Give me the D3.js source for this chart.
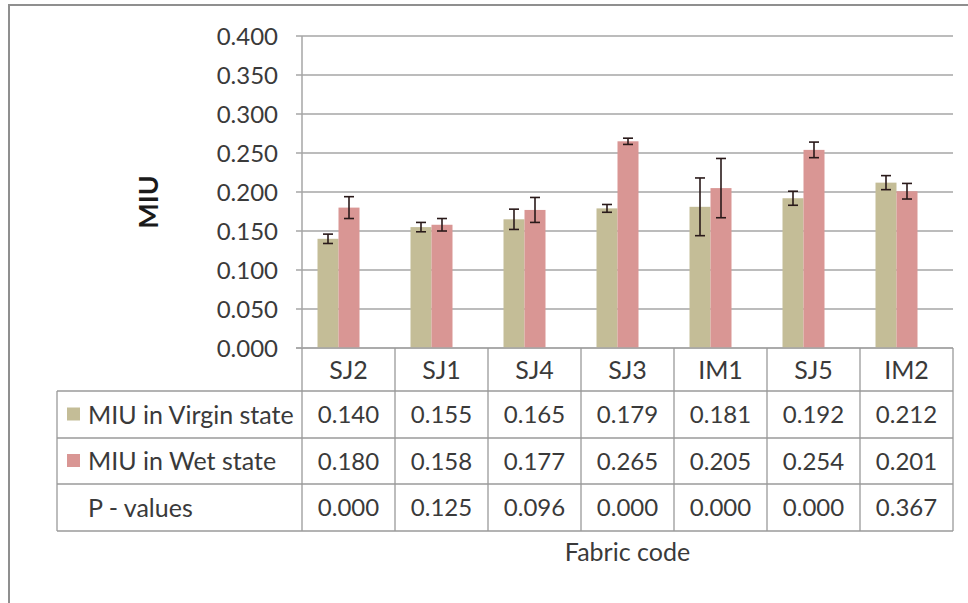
<!DOCTYPE html>
<html><head><meta charset="utf-8">
<script src="https://cdn.jsdelivr.net/npm/d3@7"></script>
<style>body{margin:0;background:#fff}svg{display:block}text{font-family:Lato,"Open Sans",sans-serif;fill:#3a3a3a}</style>
</head><body><svg id="c" width="968" height="603"></svg>
<script>
const categories = ["SJ2","SJ1","SJ4","SJ3","IM1","SJ5","IM2"];
const virgin = [0.140,0.155,0.165,0.179,0.181,0.192,0.212];
const wet = [0.180,0.158,0.177,0.265,0.205,0.254,0.201];
const virginErr = [0.006,0.006,0.013,0.005,0.037,0.009,0.009];
const wetErr = [0.014,0.008,0.016,0.004,0.038,0.010,0.010];
const pValues = ["0.000","0.125","0.096","0.000","0.000","0.000","0.367"];
const seriesNames = ["MIU in Virgin state","MIU in Wet state","P - values"];
const yTicks = [0,0.05,0.1,0.15,0.2,0.25,0.3,0.35,0.4];
const colors = ["#c4bd97","#d99694"];

const svg = d3.select("#c");
const W=968,H=603;
const numFS=24, txtFS=25;
// frame
svg.append("line").attr("x1",9).attr("x2",9).attr("y1",5).attr("y2",H).attr("stroke","#8f8f8f").attr("stroke-width",2);
svg.append("line").attr("x1",8).attr("x2",W).attr("y1",5).attr("y2",5).attr("stroke","#8f8f8f").attr("stroke-width",2);

const x0=302,x1=953,yTop=36,yBot=348;
const x = d3.scaleBand().domain(categories).range([x0,x1]).padding(0);
const y = d3.scaleLinear().domain([0,0.4]).range([yBot,yTop]);
const grid="#a6a6a6", border="#9a9a9a";

// gridlines + ticks
const gy = svg.append("g");
yTicks.forEach(t=>{
  gy.append("line").attr("x1",296).attr("x2",x1).attr("y1",y(t)).attr("y2",y(t)).attr("stroke",grid).attr("stroke-width",1.5);
  gy.append("text").attr("x",278).attr("y",y(t)).attr("dy","0.36em").attr("text-anchor","end").attr("font-size",numFS).text(d3.format(".3f")(t));
});
gy.append("line").attr("x1",x0).attr("x2",x0).attr("y1",yTop).attr("y2",yBot).attr("stroke",grid).attr("stroke-width",1.5);

// axis title
svg.append("text").attr("transform","translate(158,202) rotate(-90)").attr("text-anchor","middle").attr("font-size",27).attr("font-weight","bold").style("fill","#1a1a1a").text("MIU");

// bars
const bw=21, shift=-10;
const data=[virgin,wet], errs=[virginErr,wetErr];
data.forEach((arr,si)=>{
  const g=svg.append("g");
  categories.forEach((c,i)=>{
    const cx=x(c)+x.bandwidth()/2+shift;
    const bx=cx-bw+si*bw;
    g.append("rect").attr("x",bx).attr("y",y(arr[i])).attr("width",bw).attr("height",y(0)-y(arr[i])).attr("fill",colors[si]);
  });
});
data.forEach((arr,si)=>{
  const g=svg.append("g").attr("stroke","#2a1a1a").attr("stroke-width",1.6);
  categories.forEach((c,i)=>{
    const cx=x(c)+x.bandwidth()/2+shift - bw/2 + si*bw;
    const hi=y(arr[i]+errs[si][i]), lo=y(arr[i]-errs[si][i]);
    g.append("line").attr("x1",cx).attr("x2",cx).attr("y1",hi).attr("y2",lo);
    g.append("line").attr("x1",cx-5).attr("x2",cx+5).attr("y1",hi).attr("y2",hi);
    g.append("line").attr("x1",cx-5).attr("x2",cx+5).attr("y1",lo).attr("y2",lo);
  });
});
// axis line on top
svg.append("line").attr("x1",296).attr("x2",x1).attr("y1",yBot).attr("y2",yBot).attr("stroke",grid).attr("stroke-width",1.5);

// data table
const tL=57, rows=[348,391,438,484,531];
const t=svg.append("g").attr("stroke",border).attr("stroke-width",1.3);
categories.forEach(c=>{ t.append("line").attr("x1",x(c)).attr("x2",x(c)).attr("y1",rows[0]).attr("y2",rows[4]); });
t.append("line").attr("x1",x1).attr("x2",x1).attr("y1",rows[0]).attr("y2",rows[4]);
t.append("line").attr("x1",tL).attr("x2",tL).attr("y1",rows[1]).attr("y2",rows[4]);
[1,2,3,4].forEach(r=>{ t.append("line").attr("x1",tL).attr("x2",x1).attr("y1",rows[r]).attr("y2",rows[r]); });

categories.forEach(c=>{
  svg.append("text").attr("x",x(c)+x.bandwidth()/2).attr("y",(rows[0]+rows[1])/2).attr("dy","0.36em").attr("text-anchor","middle").attr("font-size",txtFS).text(c);
});
const rowVals=[virgin.map(d3.format(".3f")), wet.map(d3.format(".3f")), pValues];
rowVals.forEach((vals,r)=>{
  const cy=(rows[r+1]+rows[r+2])/2;
  if(r<2) svg.append("rect").attr("x",67).attr("y",cy-7).attr("width",13).attr("height",13).attr("fill",colors[r]);
  svg.append("text").attr("x",88).attr("y",cy).attr("dy","0.36em").attr("font-size",txtFS).text(seriesNames[r]);
  vals.forEach((v,i)=>{
    svg.append("text").attr("x",x(categories[i])+x.bandwidth()/2).attr("y",cy).attr("dy","0.36em").attr("text-anchor","middle").attr("font-size",numFS).text(v);
  });
});
svg.append("text").attr("x",(x0+x1)/2).attr("y",552).attr("dy","0.36em").attr("text-anchor","middle").attr("font-size",txtFS).text("Fabric code");
</script></body></html>
